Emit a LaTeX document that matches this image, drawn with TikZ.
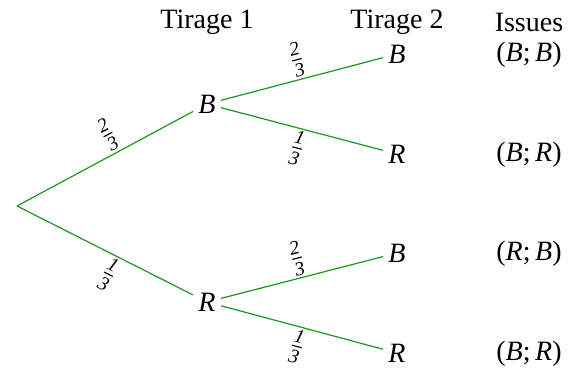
\documentclass[tikz,border=0pt]{standalone}
\usepackage{amsmath}
\usepackage{fontspec}
\setmainfont{Liberation Serif}
\newcommand{\fr}[2]{$\frac{\text{\itshape #1}}{\text{\itshape #2}}$}
\begin{document}
\begin{tikzpicture}[x=0.5pt,y=0.5pt,
  every node/.style={font=\fontsize{14}{16}\selectfont},
  lbl/.style={inner sep=2.5pt},
  branch/.style={draw={rgb,255:red,30;green,150;blue,30},line width=0.6pt},
  prob/.style={sloped,inner sep=1pt}]
\useasboundingbox (0,0) rectangle (580,-370);
\coordinate (O) at (17,-206);
\node[lbl] (B1) at (207,-104) {\textit{B}};
\node[lbl] (R1) at (207,-302) {\textit{R}};
\node[lbl] (BB) at (397,-54) {\textit{B}};
\node[lbl] (BR) at (397,-154) {\textit{R}};
\node[lbl] (RB) at (397,-253) {\textit{B}};
\node[lbl] (RR) at (397,-353) {\textit{R}};
\node (h1) at (207,-22) {Tirage 1};
\node (h2) at (397,-22) {Tirage 2};
\node (h3) at (529,-22) {Issues};
\node (i1) at (529,-55) {(\textit{B};\,\textit{B})};
\node (i2) at (529,-155) {(\textit{B};\,\textit{R})};
\node (i3) at (529,-254) {(\textit{R};\,\textit{B})};
\node (i4) at (529,-354) {(\textit{B};\,\textit{R})};
\draw[branch] (O) -- node[prob,above,pos=0.57] {\fr{2}{3}} (B1);
\draw[branch] (O) -- node[prob,below,pos=0.57] {\fr{1}{3}} (R1);
\draw[branch] (B1) -- node[prob,above] {\fr{2}{3}} (BB);
\draw[branch] (B1) -- node[prob,below] {\fr{1}{3}} (BR);
\draw[branch] (R1) -- node[prob,above] {\fr{2}{3}} (RB);
\draw[branch] (R1) -- node[prob,below] {\fr{1}{3}} (RR);
\end{tikzpicture}
\end{document}
